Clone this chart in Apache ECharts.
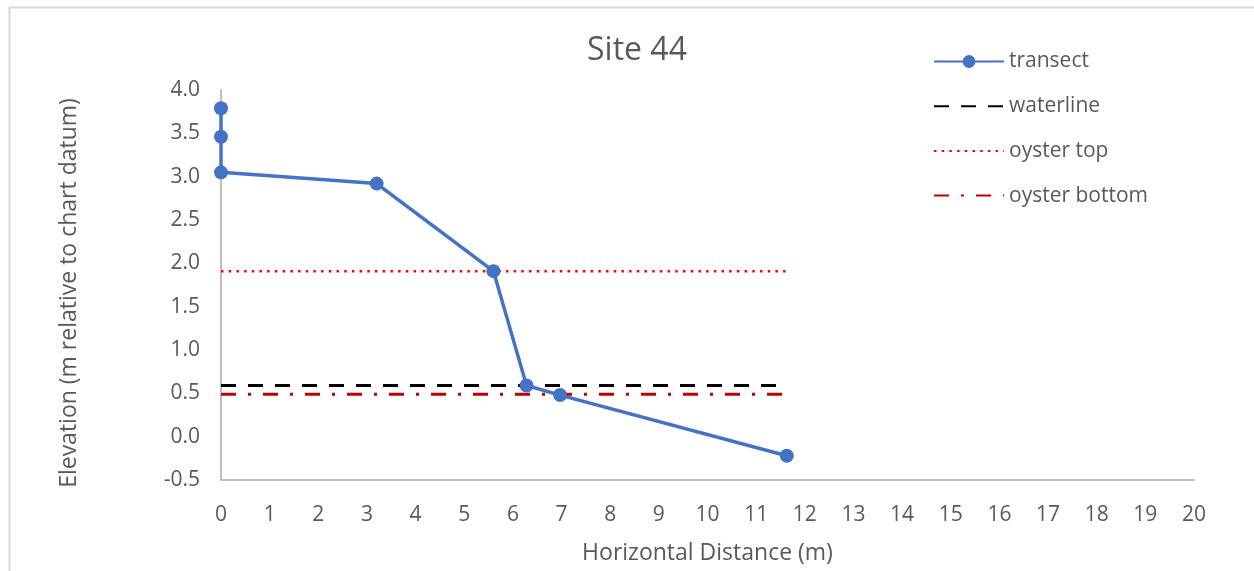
<!DOCTYPE html>
<html>
<head>
<meta charset="utf-8">
<title>Site 44</title>
<script src="https://cdn.jsdelivr.net/npm/echarts@6/dist/echarts.min.js"></script>
<style>
  html, body { margin: 0; padding: 0; background: #ffffff; }
  #chart { width: 1254px; height: 571px; }
</style>
</head>
<body>
<div id="chart"></div>
<script>
// Beach profile survey, site 44
const distance = [0, 0, 0, 3.2, 5.6, 6.28, 6.97, 11.63];
const elevation = [3.79, 3.46, 3.05, 2.92, 1.91, 0.59, 0.48, -0.22];

// Reference levels drawn across the surveyed extent
const levelStart = 0;
const levelEnd = 11.63;
const waterline = 0.59;
const oysterTop = 1.91;
const oysterBottom = 0.49;

const seriesNames = ['transect', 'waterline', 'oyster top', 'oyster bottom'];

const xTicks = { min: 0, max: 20, interval: 1 };
const yTicks = { min: -0.5, max: 4.0, interval: 0.5 };

const FONT = '"Open Sans"';
const GREY = '#595959';

const transectData = distance.map((d, i) => [d, elevation[i]]);
const levelLine = v => [[levelStart, v], [levelEnd, v]];

// legend entries for the plain reference lines carry no marker
const hiddenMarker = { color: 'rgba(0,0,0,0)', borderColor: 'rgba(0,0,0,0)', borderWidth: 0, opacity: 0 };
const legendData = seriesNames.map((n, i) => i === 0 ? { name: n } : { name: n, itemStyle: hiddenMarker });

const chart = echarts.init(document.getElementById('chart'), null, { renderer: 'canvas' });

chart.setOption({
  backgroundColor: '#ffffff',
  animation: false,
  textStyle: { fontFamily: FONT },
  graphic: [{
    type: 'rect',
    left: 7, top: 5,
    shape: { width: 1270, height: 590 },
    style: { fill: 'none', stroke: '#d9d9d9', lineWidth: 2 },
    silent: true, z: -10
  }],
  title: {
    text: 'Site 44',
    left: 632, top: 30, textAlign: 'center',
    textStyle: { fontFamily: FONT, fontSize: 32, fontWeight: 'normal', color: GREY }
  },
  legend: {
    orient: 'vertical',
    left: 928, top: 46,
    itemWidth: 70, itemHeight: 16, itemGap: 23.7,
    textStyle: { fontFamily: FONT, fontSize: 21, color: GREY, lineHeight: 21 },
    data: legendData
  },
  grid: { left: 221, right: 60, top: 90, bottom: 91, containLabel: false },
  xAxis: {
    type: 'value',
    min: xTicks.min, max: xTicks.max, interval: xTicks.interval,
    name: 'Horizontal Distance (m)',
    nameLocation: 'middle', nameGap: 62,
    nameTextStyle: { fontFamily: FONT, fontSize: 23, color: GREY },
    axisLine: { show: true, onZero: false, lineStyle: { color: '#bfbfbf', width: 2 } },
    axisTick: { show: false },
    splitLine: { show: false },
    axisLabel: { fontFamily: FONT, fontSize: 21, color: GREY, margin: 25 }
  },
  yAxis: {
    type: 'value',
    min: yTicks.min, max: yTicks.max, interval: yTicks.interval,
    name: 'Elevation (m relative to chart datum)',
    nameLocation: 'middle', nameGap: 140,
    nameTextStyle: { fontFamily: FONT, fontSize: 23, color: GREY, padding: [0, 16, 0, 0] },
    axisLine: { show: true, onZero: false, lineStyle: { color: '#bfbfbf', width: 2 } },
    axisTick: { show: false },
    splitLine: { show: false },
    axisLabel: { fontFamily: FONT, fontSize: 21, color: GREY, margin: 21, formatter: v => v.toFixed(1) }
  },
  series: [
    {
      name: seriesNames[0], type: 'line', data: transectData,
      symbol: 'circle', symbolSize: 14, showSymbol: true,
      lineStyle: { color: '#4472C4', width: 3.5 },
      itemStyle: { color: '#4472C4' }
    },
    {
      name: seriesNames[1], type: 'line', data: levelLine(waterline),
      showSymbol: false, symbol: 'none',
      lineStyle: { color: '#000000', width: 3, type: [15, 12] },
      itemStyle: { color: '#000000' }
    },
    {
      name: seriesNames[2], type: 'line', data: levelLine(oysterTop),
      showSymbol: false, symbol: 'none',
      lineStyle: { color: '#ff0000', width: 2.5, type: [2.5, 5.2] },
      itemStyle: { color: '#ff0000' }
    },
    {
      name: seriesNames[3], type: 'line', data: levelLine(oysterBottom),
      showSymbol: false, symbol: 'none',
      lineStyle: { color: '#c00000', width: 3, type: [15, 12, 3, 12] },
      itemStyle: { color: '#c00000' }
    }
  ]
});
</script>
</body>
</html>
